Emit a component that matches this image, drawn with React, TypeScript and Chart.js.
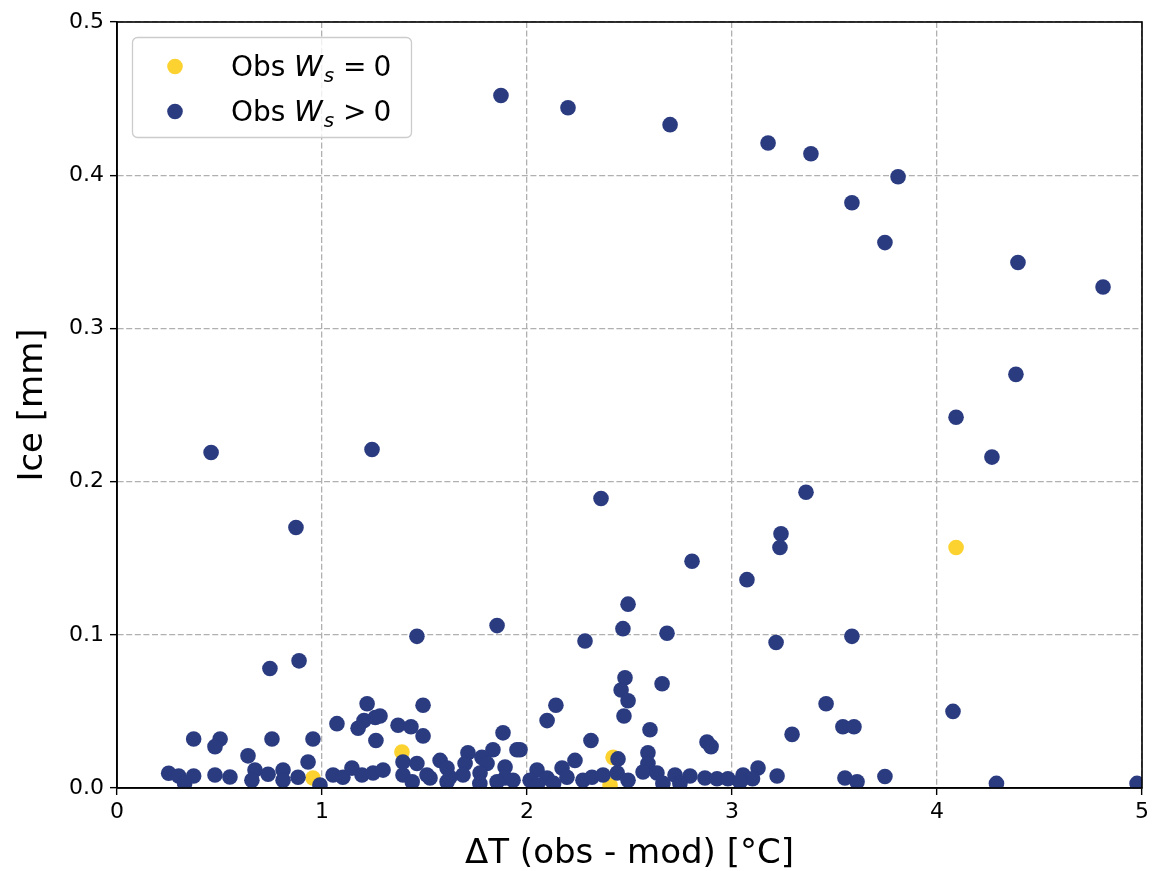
import React, { useEffect, useRef } from 'react';
import { Chart, registerables } from 'chart.js';

Chart.register(...registerables);

// ---- Data ----
const seriesLabels = ['Obs W_s = 0', 'Obs W_s > 0'];

// Obs Ws = 0 (yellow)
const wsZero: [number, number][] = [
  [0.956, 0.0065],
  [1.39, 0.0235],
  [2.42, 0.02],
  [2.405, 0.002],
  [4.093, 0.157],
];

// Obs Ws > 0 (navy)
const wsPositive: [number, number][] = [
  [1.873, 0.452], [2.2, 0.444], [2.698, 0.433], [3.176, 0.421], [3.385, 0.414],
  [3.81, 0.399], [3.585, 0.382], [3.746, 0.356], [4.395, 0.343], [4.81, 0.327],
  [4.385, 0.27], [4.093, 0.242], [4.268, 0.216], [0.459, 0.219], [1.244, 0.221],
  [0.873, 0.17], [2.361, 0.189], [3.361, 0.193], [3.239, 0.166], [3.234, 0.157],
  [2.805, 0.148], [3.073, 0.136], [2.493, 0.12], [1.463, 0.099], [1.854, 0.106],
  [2.468, 0.104], [2.683, 0.101], [2.283, 0.096], [3.215, 0.095], [3.585, 0.099],
  [0.888, 0.083], [0.746, 0.078], [2.659, 0.068], [2.478, 0.072], [2.459, 0.064],
  [2.493, 0.057], [2.473, 0.047], [2.141, 0.054], [2.098, 0.044], [3.459, 0.055],
  [4.078, 0.05], [1.493, 0.054], [1.22, 0.055], [1.073, 0.042], [1.205, 0.044],
  [1.26, 0.046], [1.283, 0.047], [1.176, 0.039], [1.371, 0.041], [1.434, 0.04],
  [1.883, 0.036], [2.6, 0.038], [3.541, 0.04], [3.595, 0.04], [3.293, 0.035],
  [1.493, 0.034], [0.374, 0.032], [0.503, 0.032], [0.478, 0.027], [0.756, 0.032],
  [0.956, 0.032], [1.263, 0.031], [2.312, 0.031], [2.878, 0.03], [2.898, 0.027],
  [1.966, 0.025], [1.712, 0.023], [1.834, 0.025], [1.78, 0.02], [1.951, 0.025],
  [2.59, 0.023], [0.639, 0.021], [2.234, 0.018], [2.444, 0.019], [0.932, 0.017],
  [0.252, 0.0096], [0.301, 0.0078], [0.33, 0.003], [0.374, 0.0078], [0.478, 0.0085],
  [0.551, 0.0072], [0.673, 0.0117], [0.658, 0.005], [0.737, 0.009], [0.81, 0.0117],
  [0.81, 0.005], [0.883, 0.007], [0.99, 0.002], [1.054, 0.0085], [1.102, 0.007],
  [1.146, 0.013], [1.195, 0.0085], [1.249, 0.0098], [1.298, 0.0117], [1.395, 0.017],
  [1.463, 0.016], [1.576, 0.018], [1.395, 0.0085], [1.512, 0.0085], [1.61, 0.013],
  [1.61, 0.004], [1.698, 0.016], [1.805, 0.016], [1.688, 0.0085], [1.771, 0.0098],
  [1.893, 0.0137], [1.893, 0.0065], [1.854, 0.004], [1.77, 0.003], [1.624, 0.007],
  [1.527, 0.0065], [1.932, 0.005], [1.44, 0.004], [2.049, 0.0117], [2.171, 0.013],
  [2.195, 0.007], [2.098, 0.0065], [2.015, 0.005], [2.05, 0.002], [2.13, 0.003],
  [2.273, 0.005], [2.317, 0.007], [2.371, 0.0085], [2.44, 0.0098], [2.493, 0.005],
  [2.59, 0.016], [2.566, 0.0104], [2.634, 0.0098], [2.722, 0.0085], [2.795, 0.0078],
  [2.868, 0.0065], [2.927, 0.006], [2.98, 0.006], [3.054, 0.0085], [3.127, 0.013],
  [3.1, 0.006], [3.22, 0.0078], [2.663, 0.003], [2.746, 0.003], [3.039, 0.004],
  [3.551, 0.0065], [3.61, 0.004], [3.746, 0.0075], [4.29, 0.003], [4.976, 0.003],
];

const xTicks = [0, 1, 2, 3, 4, 5];
const yTicks = [0, 0.1, 0.2, 0.3, 0.4, 0.5];

const xTitle = 'ΔT (obs - mod) [°C]';
const yTitle = 'Ice [mm]';

const NAVY = '#2a3b80';
const YELLOW = '#fbd22f';
const FONT = '"DejaVu Sans", sans-serif';

const framePlugin = {
  id: 'frameAndLegend',
  afterDatasetsDraw(chart: any) {
    const { ctx, chartArea } = chart;
    const { left, top, right, bottom } = chartArea;
    ctx.save();
    ctx.strokeStyle = '#000';
    ctx.lineWidth = 1.6;
    ctx.strokeRect(left, top, right - left, bottom - top);
    ctx.restore();
  },
  afterDraw(chart: any) {
    const { ctx } = chart;
    ctx.save();
    // legend box
    const bx = 132.5, by = 37.5, bw = 279, bh = 100, r = 5;
    ctx.beginPath();
    ctx.moveTo(bx + r, by);
    ctx.lineTo(bx + bw - r, by);
    ctx.arcTo(bx + bw, by, bx + bw, by + r, r);
    ctx.lineTo(bx + bw, by + bh - r);
    ctx.arcTo(bx + bw, by + bh, bx + bw - r, by + bh, r);
    ctx.lineTo(bx + r, by + bh);
    ctx.arcTo(bx, by + bh, bx, by + bh - r, r);
    ctx.lineTo(bx, by + r);
    ctx.arcTo(bx, by, bx + r, by, r);
    ctx.closePath();
    ctx.fillStyle = 'rgba(255,255,255,0.8)';
    ctx.fill();
    ctx.strokeStyle = '#cccccc';
    ctx.lineWidth = 1.3;
    ctx.stroke();

    const rows = [
      { color: YELLOW, op: '=', cy: 66.5, base: 76 },
      { color: NAVY, op: '>', cy: 111.5, base: 121 },
    ];
    rows.forEach((row) => {
      ctx.beginPath();
      ctx.arc(175, row.cy, 7.8, 0, Math.PI * 2);
      ctx.fillStyle = row.color;
      ctx.fill();
      ctx.fillStyle = '#000';
      ctx.textBaseline = 'alphabetic';
      ctx.textAlign = 'left';
      ctx.font = `28px ${FONT}`;
      ctx.fillText('Obs', 231, row.base);
      let x = 294;
      ctx.font = `italic 29px ${FONT}`;
      ctx.fillText('W', x, row.base);
      x += ctx.measureText('W').width + 1;
      ctx.font = `italic 20px ${FONT}`;
      ctx.fillText('s', x, row.base + 6);
      x += ctx.measureText('s').width + 9;
      ctx.font = `28px ${FONT}`;
      ctx.fillText(row.op, x, row.base);
      x += ctx.measureText(row.op).width + 7;
      ctx.fillText('0', x, row.base);
    });
    ctx.restore();
  },
};

export default function App() {
  const canvasRef = useRef<HTMLCanvasElement | null>(null);

  useEffect(() => {
    const canvas = canvasRef.current;
    if (!canvas) return;
    const gridOpts = {
      color: '#b0b0b0',
      lineWidth: 1.3,
      drawTicks: true,
      tickLength: 7,
      tickColor: '#000',
      tickWidth: 1.4,
      tickBorderDash: [],
    };
    const borderOpts = { display: true, color: '#000', width: 1.6, dash: [6, 2.6] };
    const chart = new Chart(canvas, {
      type: 'scatter',
      data: {
        datasets: [
          {
            label: seriesLabels[1],
            data: wsPositive.map(([x, y]) => ({ x, y })),
            backgroundColor: NAVY,
            borderWidth: 0,
            pointRadius: 7.8,
            pointHoverRadius: 7.8,
            clip: 0,
          },
          {
            label: seriesLabels[0],
            data: wsZero.map(([x, y]) => ({ x, y })),
            backgroundColor: YELLOW,
            borderWidth: 0,
            pointRadius: 7.8,
            pointHoverRadius: 7.8,
            clip: 0,
          },
        ],
      },
      options: {
        animation: false,
        responsive: false,
        devicePixelRatio: 1,
        layout: { padding: { top: 22, right: 11, bottom: 0, left: 0 } },
        plugins: {
          legend: { display: false },
          tooltip: { enabled: false },
        },
        scales: {
          x: {
            type: 'linear',
            min: 0,
            max: 5,
            afterFit: (s: any) => { s.height = 83; },
            afterBuildTicks: (s: any) => { s.ticks = xTicks.map((v) => ({ value: v })); },
            ticks: {
              color: '#000',
              font: { family: FONT, size: 22 },
              padding: 4,
              callback: (v: any) => String(v),
            },
            grid: gridOpts,
            border: borderOpts,
            title: {
              display: true,
              text: xTitle,
              color: '#000',
              font: { family: FONT, size: 34, lineHeight: 1 },
              padding: { top: 0, bottom: 0 },
            },
          },
          y: {
            type: 'linear',
            min: 0,
            max: 0.5,
            afterFit: (s: any) => { s.width = 117; },
            afterBuildTicks: (s: any) => { s.ticks = yTicks.map((v) => ({ value: v })); },
            ticks: {
              color: '#000',
              font: { family: FONT, size: 22 },
              padding: 6,
              callback: (v: any) => Number(v).toFixed(1),
            },
            grid: gridOpts,
            border: borderOpts,
            title: {
              display: true,
              text: yTitle,
              color: '#000',
              font: { family: FONT, size: 34, lineHeight: 1 },
              padding: { top: 16, bottom: 0 },
            },
          },
        },
      },
      plugins: [framePlugin],
    } as any);
    return () => chart.destroy();
  }, []);

  return (
    <div style={{ position: 'absolute', left: 0, top: 0, width: 1153, height: 871, background: '#fff' }}>
      <canvas ref={canvasRef} width={1153} height={871} style={{ display: 'block' }} />
    </div>
  );
}
